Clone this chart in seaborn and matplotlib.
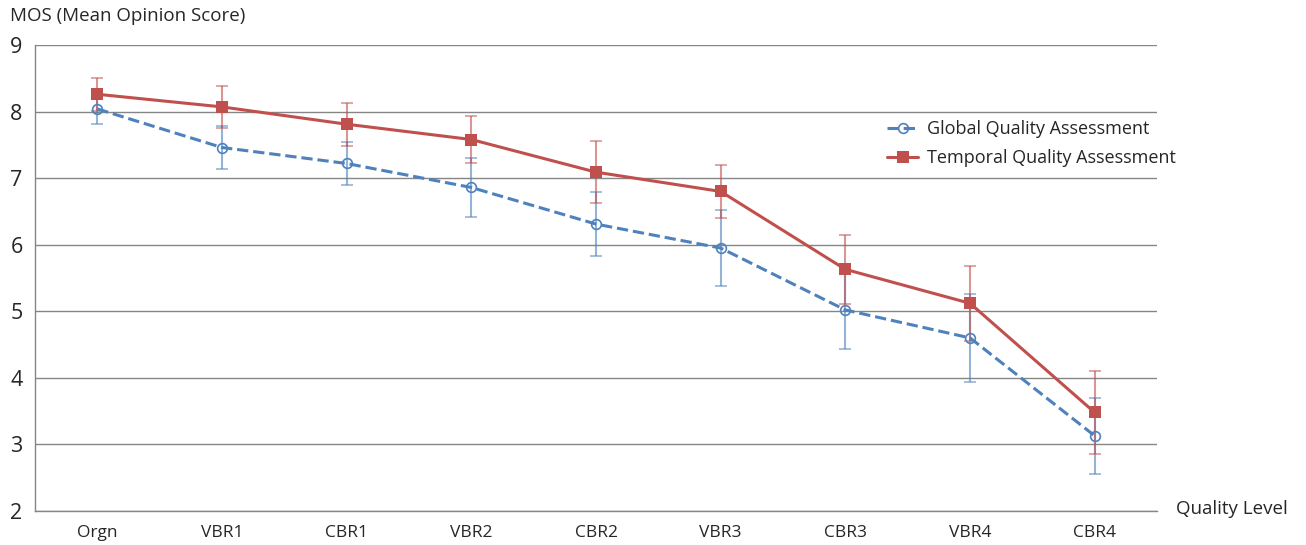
import numpy as np
import pandas as pd
import seaborn as sns
import matplotlib.pyplot as plt

# values
categories = ['Orgn', 'VBR1', 'CBR1', 'VBR2', 'CBR2', 'VBR3', 'CBR3', 'VBR4', 'CBR4']
global_mos = [8.04, 7.46, 7.22, 6.86, 6.31, 5.95, 5.02, 4.60, 3.13]
global_err = [0.22, 0.33, 0.33, 0.45, 0.48, 0.57, 0.58, 0.66, 0.57]
temporal_mos = [8.26, 8.07, 7.81, 7.58, 7.09, 6.80, 5.63, 5.12, 3.48]
temporal_err = [0.25, 0.31, 0.32, 0.35, 0.47, 0.40, 0.52, 0.56, 0.62]

blue = '#4F81BD'
red = '#C0504D'
grey = '#868686'

sns.set_style('white')
plt.rcParams['font.family'] = ['Open Sans', 'DejaVu Sans']

fig = plt.figure(figsize=(13.06, 5.45), dpi=100)
ax = fig.add_axes([35 / 1306, 1 - 511 / 545, (1157 - 35) / 1306, (511 - 45) / 545])

df = pd.DataFrame({'level': categories, 'global': global_mos, 'temporal': temporal_mos})
pos = np.arange(len(categories))

# error bars first so lines sit on top
ax.errorbar(pos, global_mos, yerr=global_err, fmt='none', ecolor=blue, alpha=0.6,
            elinewidth=1.5, capsize=4, capthick=1.2, zorder=2)
ax.errorbar(pos, temporal_mos, yerr=temporal_err, fmt='none', ecolor=red, alpha=0.6,
            elinewidth=1.5, capsize=4, capthick=1.2, zorder=2)

sns.lineplot(data=df, x='level', y='global', sort=False, ax=ax, color=blue,
             linestyle='--', dashes=(3, 2.5), linewidth=2.2, marker='o', markersize=7,
             markerfacecolor='none', markeredgecolor=blue, markeredgewidth=1.2,
             label='Global Quality Assessment', zorder=3)
sns.lineplot(data=df, x='level', y='temporal', sort=False, ax=ax, color=red,
             linewidth=2.2, marker='s', markersize=8, markeredgewidth=0,
             label='Temporal Quality Assessment', zorder=4)

ax.set_xlim(-0.5, len(categories) - 0.5)
ax.set_ylim(2, 9)
ax.set_yticks(range(2, 10))
ax.set_xticks(pos)
ax.set_xticklabels(categories, fontsize=12.5)
ax.set_xticks(np.arange(-0.5, len(categories), 1), minor=True)
ax.tick_params(axis='x', which='major', length=0, pad=10)
ax.tick_params(axis='x', which='minor', length=5, color=grey, width=1, direction='out')
ax.tick_params(axis='y', length=5, color=grey, width=1, direction='out', labelsize=15.5, pad=4)
ax.yaxis.grid(True, color=grey, linewidth=1)
ax.set_axisbelow(True)

for side in ['top', 'right']:
    ax.spines[side].set_visible(False)
for side in ['left', 'bottom']:
    ax.spines[side].set_color(grey)
    ax.spines[side].set_linewidth(1)

ax.set_xlabel('')
ax.set_ylabel('')
fig.text(10 / 1306, 1 - 16 / 545, 'MOS (Mean Opinion Score)', fontsize=13.5, va='center', ha='left')
fig.text(1176 / 1306, 1 - 509 / 545, 'Quality Level', fontsize=13.5, va='center', ha='left')

ax.legend(loc='upper left', bbox_to_anchor=(871 / 1306, 1 - 104 / 545),
          bbox_transform=fig.transFigure, frameon=False, fontsize=13,
          handlelength=1.7, labelspacing=0.6, handletextpad=0.5)

fig.savefig('out.png', dpi=100)
plt.close()
